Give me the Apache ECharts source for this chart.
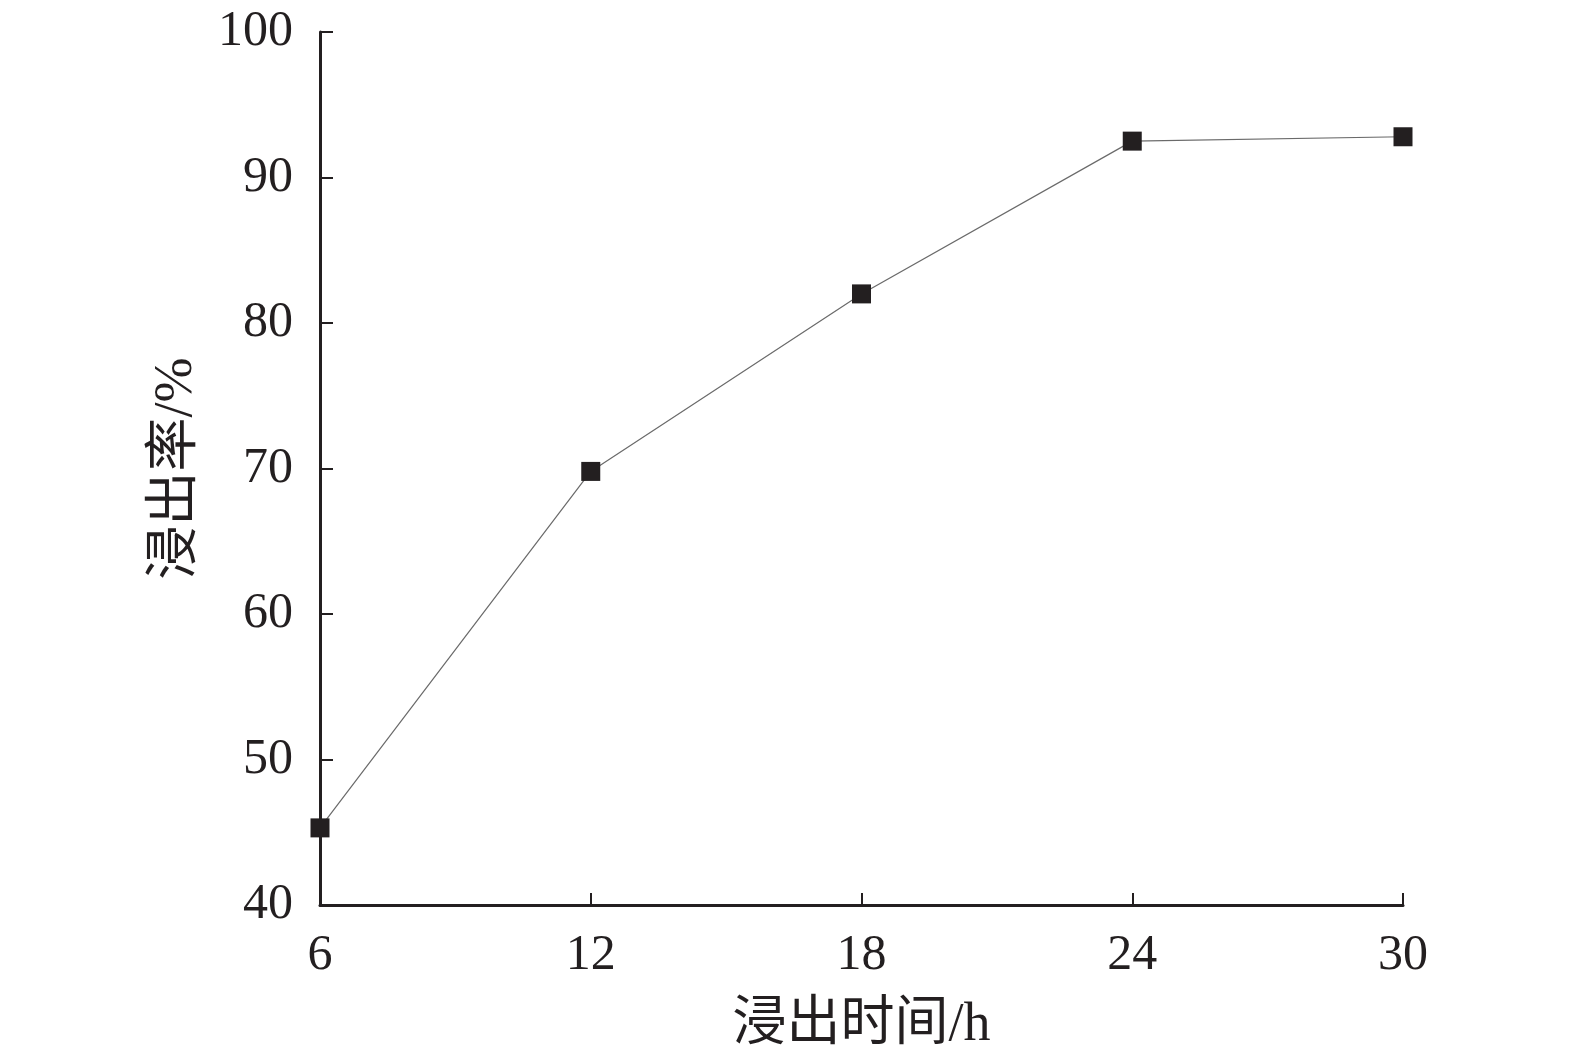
<!DOCTYPE html>
<html>
<head>
<meta charset="utf-8">
<script src="https://cdn.jsdelivr.net/npm/echarts@6/dist/echarts.min.js"></script>
<style>
html,body{margin:0;padding:0;background:#fff;}
#chart{width:1575px;height:1061px;}
</style>
</head>
<body>
<div id="chart"></div>
<script>
const leachTime = [6, 12, 18, 24, 30];
const leachRate = [45.3, 69.8, 82.0, 92.5, 92.8];
const xTitle = '浸出时间/h';
const yTitle = '浸出率/%';

const FONT = '"Liberation Serif", "Times New Roman", "Noto Sans CJK SC", serif';
const AX = '#231f20';
const chart = echarts.init(document.getElementById('chart'));
chart.setOption({
  backgroundColor: '#ffffff',
  animation: false,
  grid: { left: 320, right: 172, top: 32, bottom: 156, containLabel: false },
  xAxis: {
    type: 'value', min: 6, max: 30, interval: 6,
    name: xTitle, nameLocation: 'middle', nameGap: 94,
    nameTextStyle: { fontFamily: FONT, fontSize: 54, color: AX },
    axisLine: { show: true, lineStyle: { color: AX, width: 3 } },
    axisTick: { show: true, inside: true, length: 12, lineStyle: { color: AX, width: 2 } },
    axisLabel: { fontFamily: FONT, fontSize: 50, color: AX, margin: 26 },
    splitLine: { show: false }
  },
  yAxis: {
    type: 'value', min: 40, max: 100, interval: 10,
    name: yTitle, nameLocation: 'middle', nameGap: 116, nameRotate: 90,
    nameTextStyle: { fontFamily: FONT, fontSize: 54, color: AX },
    axisLine: { show: true, lineStyle: { color: AX, width: 3 } },
    axisTick: { show: true, inside: true, length: 13, lineStyle: { color: AX, width: 2 } },
    axisLabel: { fontFamily: FONT, fontSize: 50, color: AX, margin: 27 },
    splitLine: { show: false }
  },
  series: [{
    type: 'line',
    data: leachTime.map((t, i) => [t, leachRate[i]]),
    symbol: 'rect', symbolSize: 19,
    itemStyle: { color: AX },
    lineStyle: { color: '#6a6a6a', width: 1.2 },
    clip: false
  }]
});
</script>
</body>
</html>
